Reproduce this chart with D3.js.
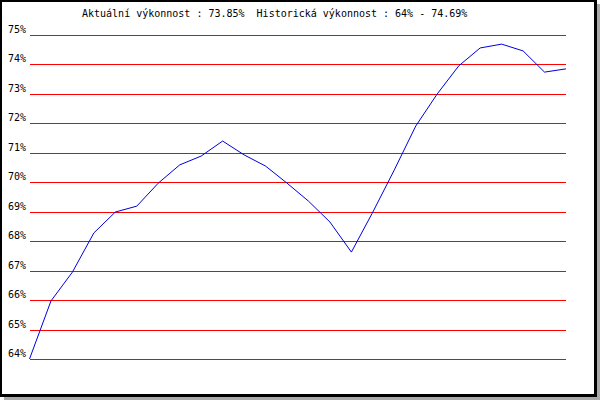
<!DOCTYPE html>
<html>
<head>
<meta charset="utf-8">
<script src="https://cdn.jsdelivr.net/npm/d3@7"></script>
<style>
  body { margin: 0; background: #fff; }
  text { font-family: "DejaVu Sans Mono", monospace; font-size: 10px; fill: #000; white-space: pre; }
</style>
</head>
<body>
<svg id="chart" width="600" height="400"></svg>
<script>
const width = 600;
const height = 400;

// values (percent)
const values = [64.0, 65.97, 66.95, 68.28, 68.99, 69.19, 69.97, 70.59, 70.89, 71.4,
  70.93, 70.55, 69.97, 69.36, 68.65, 67.63, 68.99, 70.42, 71.91, 73.0,
  73.95, 74.56, 74.69, 74.46, 73.74, 73.85];
const yTicks = [64, 65, 66, 67, 68, 69, 70, 71, 72, 73, 74, 75];
const title = "Aktuální výkonnost : 73.85%  Historická výkonnost : 64% - 74.69%";

const plot = { left: 29.5, right: 566, top: 35, bottom: 359 };

const svg = d3.select("#chart");

// frame with shadow
svg.append("rect").attr("x", 4).attr("y", 4).attr("width", 596).attr("height", 396).attr("fill", "#aaaaaa");
svg.append("rect").attr("x", 0).attr("y", 0).attr("width", 597).attr("height", 397).attr("fill", "#000");
svg.append("rect").attr("x", 2).attr("y", 2).attr("width", 592).attr("height", 392).attr("fill", "#fff");

// title
svg.append("text")
  .attr("x", 82)
  .attr("y", 17)
  .attr("xml:space", "preserve")
  .text(title);

// scales
const x = d3.scalePoint()
  .domain(d3.range(values.length))
  .range([plot.left, plot.right]);

const y = d3.scaleLinear()
  .domain([64, 75])
  .range([plot.bottom, plot.top]);

// gridlines
svg.append("g")
  .selectAll("line")
  .data(yTicks)
  .join("line")
  .attr("x1", plot.left)
  .attr("x2", plot.right)
  .attr("y1", d => Math.round(y(d)) + 0.5)
  .attr("y2", d => Math.round(y(d)) + 0.5)
  .attr("stroke", "red")
  .attr("stroke-width", 1)
  .attr("shape-rendering", "crispEdges");

// tick labels
svg.append("g")
  .selectAll("text")
  .data(yTicks)
  .join("text")
  .attr("x", 26)
  .attr("y", d => Math.round(y(d)) - 2)
  .attr("text-anchor", "end")
  .text(d => d + "%");

// line
const line = d3.line()
  .x((d, i) => x(i))
  .y(d => y(d));

svg.append("path")
  .datum(values)
  .attr("d", line)
  .attr("fill", "none")
  .attr("stroke", "#0000dd")
  .attr("stroke-width", 1);
</script>
</body>
</html>
